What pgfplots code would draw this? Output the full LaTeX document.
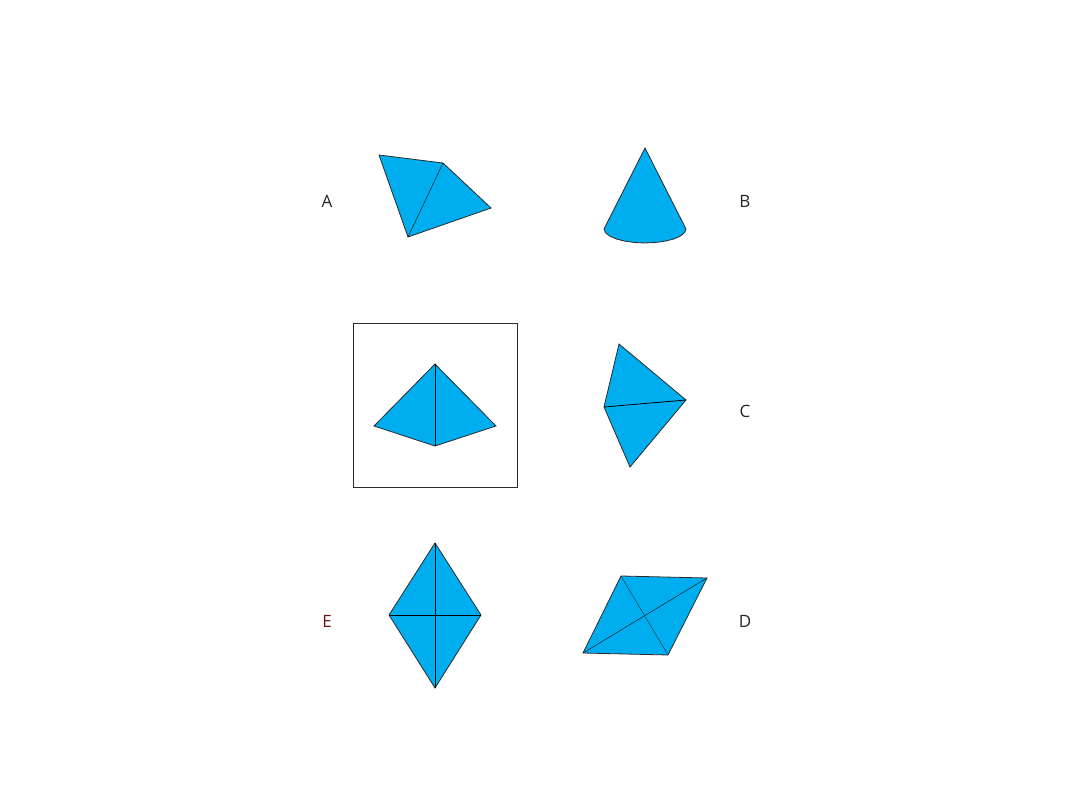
\documentclass[border=0pt]{standalone}
\usepackage{pgfplots}
\pgfplotsset{compat=1.18}
\usepackage{fontspec}
\setmainfont{Open Sans}
\definecolor{fillc}{HTML}{00AEEF}
\definecolor{edge}{HTML}{2A2A2A}
\begin{document}
\begin{tikzpicture}
\begin{axis}[width=1080pt,height=810pt,scale only axis,hide axis,
 xmin=0,xmax=1080,ymin=0,ymax=810,y dir=reverse,clip=false,
 cycle list={{edge,solid,mark=none,line width=0.8pt}}]
\path (rel axis cs:0,0) rectangle (rel axis cs:1,1);
% A
\addplot[fill=fillc,draw=edge,line width=0.8pt] coordinates {(379,155)(443,163)(491,208)(408,237)} -- cycle;
\addplot coordinates {(443,163)(408,237)};
% B
\addplot[fill=fillc,draw=edge,line width=0.8pt] coordinates {(645,148)(686,229)(684.6,232.6)(680.5,236)(674,238.9)(665.5,241.1)(655.6,242.5)(645,243)(634.4,242.5)(624.5,241.1)(616,238.9)(609.5,236)(605.4,232.6)(604,229)} -- cycle;
% box
\addplot[draw=edge,line width=0.7pt] coordinates {(353,323)(517,323)(517,487)(353,487)} -- cycle;
\addplot[fill=fillc,draw=edge,line width=0.8pt] coordinates {(435,364)(496,426)(435,446)(374,426)} -- cycle;
\addplot coordinates {(435,364)(435,446)};
% C
\addplot[fill=fillc,draw=edge,line width=0.8pt] coordinates {(619,344)(686,400)(630,467)(604,407)} -- cycle;
\addplot coordinates {(604,407)(686,400)};
% E
\addplot[fill=fillc,draw=edge,line width=0.8pt] coordinates {(435,543)(481,615)(435,688)(389,615)} -- cycle;
\addplot coordinates {(435,543)(435,688)};
\addplot coordinates {(389,615)(481,615)};
% D
\addplot[fill=fillc,draw=edge,line width=0.8pt] coordinates {(621,576)(707,578)(668,655)(583,653)} -- cycle;
\addplot coordinates {(621,576)(668,655)};
\addplot coordinates {(583,653)(707,578)};
\node[font=\fontsize{17}{20}\selectfont,text=black!85] at (axis cs:327,201) {A};
\node[font=\fontsize{17}{20}\selectfont,text=black!85] at (axis cs:745,201) {B};
\node[font=\fontsize{17}{20}\selectfont,text=black!85] at (axis cs:745,411) {C};
\node[font=\fontsize{17}{20}\selectfont,text=black!85] at (axis cs:745,621) {D};
\node[font=\fontsize{17}{20}\selectfont,text={rgb,255:red,110;green,20;blue,20}] at (axis cs:327,621) {E};
\end{axis}
\end{tikzpicture}
\end{document}
